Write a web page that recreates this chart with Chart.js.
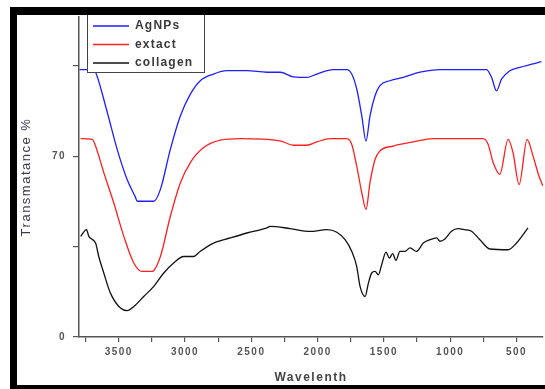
<!DOCTYPE html>
<html>
<head>
<meta charset="utf-8">
<script src="https://cdn.jsdelivr.net/npm/chart.js@4.4.1/dist/chart.umd.min.js"></script>
<style>
  html, body { margin: 0; padding: 0; background: #fff; }
  #wrap { width: 545px; height: 389px; }
</style>
</head>
<body>
<div id="wrap"><canvas id="ftir" width="545" height="389"></canvas></div>
<script>
// Valores (número de onda, transmitância %)
const agnpsWave = [3796, 3688, 3675, 3587, 3512, 3437, 3374, 3361, 3236, 3186, 3111, 3035, 2960, 2885, 2785, 2684, 2533, 2383, 2282, 2182, 2081, 2006, 1881, 1780, 1743, 1705, 1667, 1635, 1605, 1567, 1530, 1454, 1354, 1228, 1078, 726, 688, 651, 613, 550, 475, 375, 312];
const agnpsT = [103.6, 103.6, 102.7, 87.1, 72.7, 61.0, 54.1, 52.6, 52.6, 57.2, 72.7, 85.7, 94.1, 99.3, 101.9, 103.2, 103.2, 102.6, 102.6, 100.8, 100.6, 101.9, 103.6, 103.6, 101.9, 96.1, 85.7, 75.9, 85.7, 93.5, 97.4, 99.3, 100.6, 102.6, 103.6, 103.6, 100.6, 95.4, 99.9, 103.2, 104.5, 105.8, 106.7];

const extactWave = [3788, 3700, 3675, 3613, 3538, 3462, 3387, 3324, 3249, 3186, 3111, 3035, 2960, 2860, 2734, 2584, 2282, 2182, 2081, 2006, 1906, 1780, 1743, 1705, 1667, 1635, 1605, 1567, 1530, 1429, 1279, 1128, 752, 714, 676, 626, 563, 526, 480, 420, 375, 330, 300];
const extactT = [76.9, 76.6, 74.0, 63.7, 52.0, 39.0, 28.7, 25.4, 25.4, 31.2, 46.8, 59.8, 67.6, 73.4, 76.3, 76.9, 76.0, 74.3, 74.3, 75.6, 76.9, 76.9, 74.7, 66.2, 55.9, 49.4, 59.8, 68.8, 72.1, 74.0, 75.6, 76.9, 76.9, 74.7, 67.6, 63.0, 76.6, 71.4, 59.1, 76.6, 70.1, 62.3, 58.5];

const collagenWave = [3788, 3743, 3726, 3675, 3651, 3613, 3563, 3487, 3437, 3387, 3312, 3236, 3161, 3086, 3011, 2935, 2885, 2785, 2659, 2533, 2383, 2358, 2207, 2057, 1931, 1855, 1793, 1743, 1705, 1680, 1642, 1617, 1592, 1567, 1542, 1517, 1484, 1459, 1434, 1409, 1379, 1341, 1303, 1253, 1203, 1153, 1102, 1077, 1040, 990, 940, 890, 839, 776, 701, 563, 500, 413];
const collagenT = [39.0, 41.6, 39.0, 36.4, 31.2, 24.8, 17.0, 11.2, 10.2, 11.8, 15.7, 19.6, 24.8, 28.7, 31.2, 31.2, 33.2, 36.4, 38.4, 40.3, 42.3, 42.9, 42.0, 40.9, 41.6, 40.6, 37.7, 33.2, 27.3, 19.6, 15.7, 20.9, 24.8, 25.4, 24.1, 28.0, 32.9, 30.6, 32.3, 29.7, 33.2, 33.2, 34.5, 33.2, 36.4, 37.7, 38.4, 37.1, 38.0, 41.0, 42.0, 41.6, 41.0, 37.7, 34.1, 33.8, 36.4, 42.3];

const xTicks = [3750, 3500, 3250, 3000, 2750, 2500, 2250, 2000, 1750, 1500, 1250, 1000, 750, 500];
const yTicks = [0, 35, 70, 105];
const yLabels = [0, 70];

function toPoints(wave, values) {
    return wave.map((w, i) => ({ x: w, y: values[i] }));
}

// Moldura preta e legenda com caixa
const framePlugin = {
    id: 'frame',
    beforeDraw(chart) {
        chart.ctx.letterSpacing = '1.5px';
    },
    afterDraw(chart) {
        const ctx = chart.ctx;
        ctx.save();
        // legenda
        ctx.fillStyle = '#fff';
        ctx.fillRect(87.5, 14.5, 117, 58);
        ctx.strokeStyle = '#444';
        ctx.lineWidth = 1;
        ctx.strokeRect(87.5, 14.5, 117, 58);
        ctx.font = 'bold 12px Arial, "Liberation Sans"';
        ctx.textBaseline = 'middle';
        ctx.letterSpacing = '1.2px';
        const rows = [26, 44.5, 63];
        chart.data.datasets.forEach((ds, i) => {
            ctx.strokeStyle = ds.borderColor;
            ctx.lineWidth = 1.3;
            ctx.beginPath();
            ctx.moveTo(93, rows[i]);
            ctx.lineTo(129, rows[i]);
            ctx.stroke();
            ctx.fillStyle = '#3a3a3a';
            ctx.fillText(ds.label, 135, rows[i]);
        });
        // moldura
        ctx.fillStyle = '#000';
        ctx.fillRect(10, 7, 535, 8);
        ctx.fillRect(10, 7, 7, 382);
        ctx.fillRect(10, 385, 535, 4);
        ctx.restore();
    }
};

const ctx = document.getElementById('ftir').getContext('2d');
new Chart(ctx, {
    type: 'line',
    data: {
        datasets: [{
            label: 'AgNPs',
            data: toPoints(agnpsWave, agnpsT),
            borderColor: '#1f1fff',
            borderWidth: 1.3
        }, {
            label: 'extact',
            data: toPoints(extactWave, extactT),
            borderColor: '#ff1f1f',
            borderWidth: 1.3
        }, {
            label: 'collagen',
            data: toPoints(collagenWave, collagenT),
            borderColor: '#111',
            borderWidth: 1.3
        }]
    },
    options: {
        responsive: false,
        animation: false,
        devicePixelRatio: 1,
        cubicInterpolationMode: 'monotone',
        elements: { point: { radius: 0 } },
        layout: { padding: { top: 17, right: 2, left: 0, bottom: 0 } },
        plugins: {
            legend: { display: false },
            tooltip: { enabled: false }
        },
        scales: {
            x: {
                type: 'linear',
                reverse: true,
                min: 300,
                max: 3800,
                afterFit: s => { s.height = 52; },
                afterBuildTicks: s => { s.ticks = xTicks.map(v => ({ value: v })); },
                border: { display: true, color: '#555', width: 1.5 },
                grid: { drawOnChartArea: false, drawTicks: true, tickLength: 5, color: '#555', lineWidth: 1.2 },
                ticks: {
                    padding: 4,
                    color: '#555',
                    font: { family: 'Arial, "Liberation Sans"', size: 10, weight: 'bold' },
                    maxRotation: 0,
                    autoSkip: false,
                    callback: v => (v % 500 === 0 ? v : '')
                },
                title: {
                    display: true,
                    text: 'Wavelenth',
                    color: '#444',
                    font: { family: 'Arial, "Liberation Sans"', size: 12, weight: 'bold' },
                    padding: { top: 0, bottom: 4 }
                }
            },
            y: {
                min: 0,
                max: 124,
                afterFit: s => { s.width = 79; },
                afterBuildTicks: s => { s.ticks = yTicks.map(v => ({ value: v })); },
                border: { display: true, color: '#555', width: 1.5 },
                grid: { drawOnChartArea: false, drawTicks: true, tickLength: 6, color: '#555', lineWidth: 1.2 },
                ticks: {
                    padding: 7,
                    color: '#555',
                    font: { family: 'Arial, "Liberation Sans"', size: 10, weight: 'bold' },
                    callback: v => (yLabels.includes(v) ? v : '')
                },
                title: {
                    display: true,
                    text: 'Transmatance %',
                    color: '#3a3a48',
                    font: { family: 'Arial, "Liberation Sans"', size: 13 },
                    padding: { top: 19, bottom: 0 }
                }
            }
        }
    },
    plugins: [framePlugin]
});
</script>
</body>
</html>
